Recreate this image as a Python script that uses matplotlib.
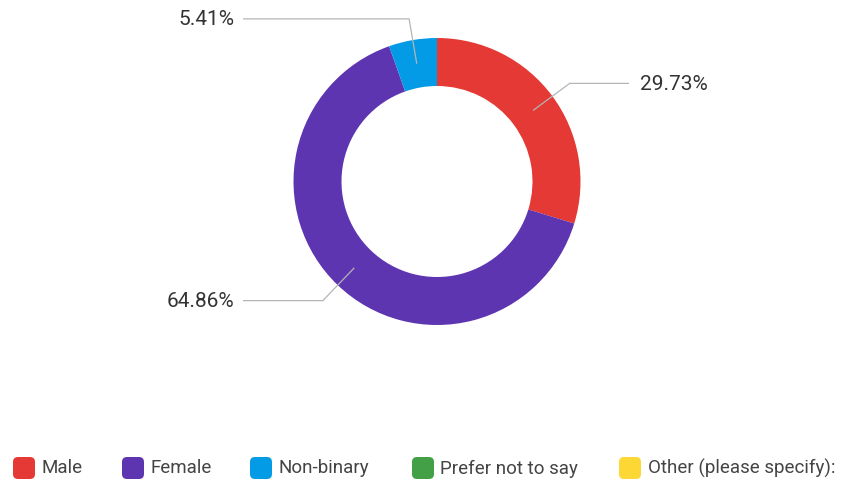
import numpy as np
import matplotlib
matplotlib.use("Agg")
import matplotlib.pyplot as plt
from matplotlib.patches import FancyBboxPatch

# Gender breakdown of respondents (percent)
categories = ["Male", "Female", "Non-binary", "Prefer not to say", "Other (please specify):"]
shares = [29.73, 64.86, 5.41, 0.0, 0.0]
colors = ["#E53935", "#5E35B1", "#039BE5", "#43A047", "#FDD835"]

W, H = 842, 481
plt.rcParams["font.family"] = ["Roboto", "DejaVu Sans"]

fig = plt.figure(figsize=(W / 100, H / 100), dpi=100)
ax = fig.add_axes([0, 0, 1, 1])

cx, cy = 437, H - 182.5
r_out, ring = 143.5, 48

ax.pie(shares, colors=colors, startangle=90, counterclock=False,
       radius=r_out, center=(cx, cy),
       wedgeprops=dict(width=ring, linewidth=0))
ax.set_xlim(0, W)
ax.set_ylim(0, H)
ax.set_aspect("equal")
ax.axis("off")

# Leader lines and value labels
r_mid = r_out - ring / 2
r_elbow = 165
total = sum(shares)
start = 90.0
for val in shares:
    if val <= 0:
        continue
    sweep = val / total * 360
    mid = np.deg2rad(start - sweep / 2)
    start -= sweep
    p0 = (cx + r_mid * np.cos(mid), cy + r_mid * np.sin(mid))
    p1 = (cx + r_elbow * np.cos(mid), cy + r_elbow * np.sin(mid))
    right = np.cos(mid) > 0
    x_end = 629 if right else 243
    ax.plot([p0[0], p1[0], x_end], [p0[1], p1[1], p1[1]],
            color="#b5b5b5", lw=0.9, solid_capstyle="butt", zorder=3)
    ax.text(x_end + (11 if right else -9), p1[1], f"{val:.2f}%",
            ha="left" if right else "right", va="center",
            fontsize=15, color="#333333")

# Legend row
legend_x = [13, 122, 250, 412, 619]
for x, lab, col in zip(legend_x, categories, colors):
    ax.add_patch(FancyBboxPatch((x, H - 480), 22, 22,
                                boxstyle="round,pad=0,rounding_size=5",
                                fc=col, ec="none"))
    ax.text(x + 28.5, H - 468.5, lab, ha="left", va="center",
            fontsize=13.5, color="#444444")

fig.savefig("out.png", dpi=100, facecolor="white")
